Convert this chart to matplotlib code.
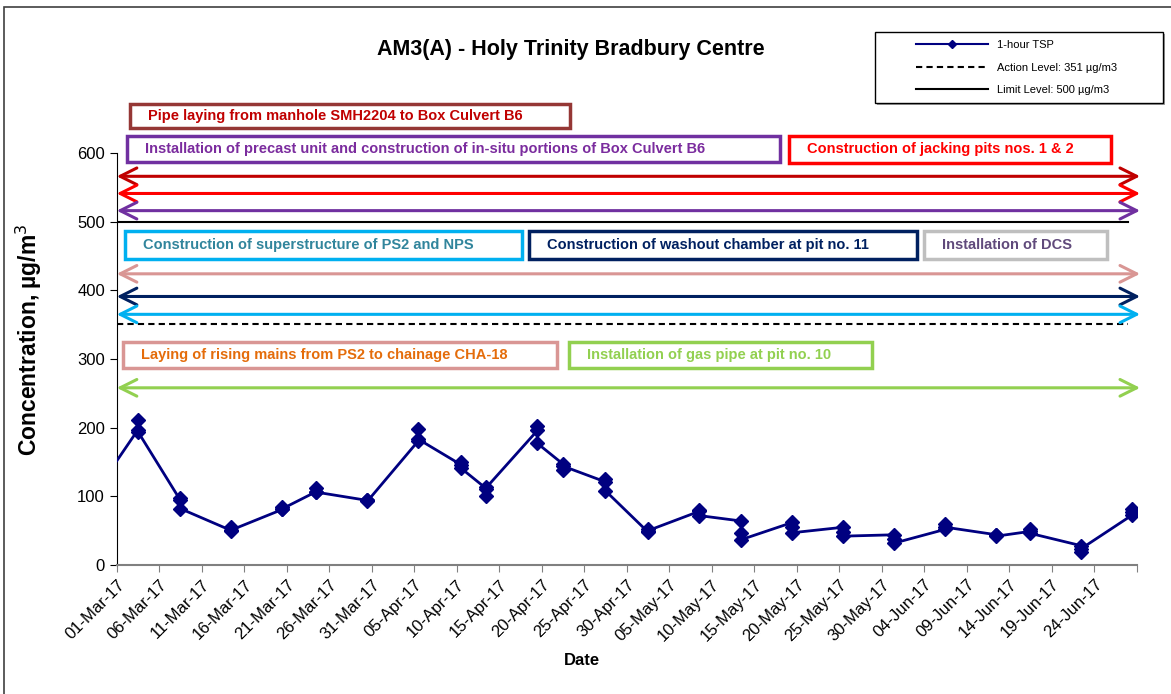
import pandas as pd
import numpy as np
import matplotlib
matplotlib.use('Agg')
import matplotlib.pyplot as plt
from matplotlib.patches import Rectangle, FancyArrowPatch
from matplotlib.lines import Line2D

plt.rcParams['font.family'] = ['Liberation Sans', 'DejaVu Sans']

# 1-hour TSP readings, three per sampling day (in sampling order)
sample_dates = ['2017-02-25', '2017-03-03', '2017-03-08', '2017-03-14', '2017-03-20',
                '2017-03-24', '2017-03-30', '2017-04-05', '2017-04-10', '2017-04-13',
                '2017-04-19', '2017-04-22', '2017-04-27', '2017-05-02', '2017-05-08',
                '2017-05-13', '2017-05-19', '2017-05-25', '2017-05-31', '2017-06-06',
                '2017-06-12', '2017-06-16', '2017-06-22', '2017-06-28']
tsp_first = [88, 197, 94, 50, 81, 107, 94, 181, 146, 111, 196, 147, 121, 48, 78, 64,
             62, 55, 44, 52, 44, 49, 28, 73]
tsp_second = [88, 211, 97, 56, 84, 112, 95, 198, 150, 100, 202, 138, 125, 52, 80, 46,
              55, 48, 38, 60, 43, 53, 19, 82]
tsp_third = [88, 194, 82, 51, 82, 106, 93, 183, 141, 113, 177, 144, 108, 50, 72, 37,
             47, 42, 32, 55, 42, 46, 24, 77]

action_level = 351
limit_level = 500

# construction activities shown as labelled boxes
activity_labels = [
    'Pipe laying from manhole SMH2204 to Box Culvert B6',
    'Installation of precast unit and construction of in-situ portions of Box Culvert B6',
    'Construction of jacking pits nos. 1 & 2',
    'Construction of superstructure of PS2 and NPS',
    'Construction of washout chamber at pit no. 11',
    'Installation of DCS',
    'Laying of rising mains from PS2 to chainage CHA-18',
    'Installation of gas pipe at pit no. 10',
]
activity_text_colors = ['#C00000', '#7B2C9E', '#FF0000', '#31859C',
                        '#002060', '#604A7B', '#E46C0A', '#92D050']
activity_edge_colors = ['#953735', '#7030A0', '#FF0000', '#00B0F0',
                        '#002060', '#BFBFBF', '#D99694', '#92D050']
# box extents: x in days from 01-Mar, y in ug/m3
activity_boxes = [(1.6, 53.3, 636, 672), (1.2, 78.0, 587, 625), (79.1, 117.0, 586, 625),
                  (1.0, 47.7, 445, 487), (48.5, 94.2, 445, 487), (95.0, 116.5, 445, 487),
                  (0.7, 51.8, 287, 325), (53.2, 88.8, 287, 325)]

# activity period arrows (all spanning the whole reporting period)
arrow_colors = ['#C00000', '#FF0000', '#7030A0', '#D99694', '#002060', '#00B0F0', '#92D050']
arrow_levels = [566, 541, 516, 424, 391, 365, 258]

start = pd.Timestamp('2017-03-01')
day_pos = np.array([(pd.Timestamp(d) - start).days + 0.5 for d in sample_dates])
x = np.repeat(day_pos, 3)
y = np.column_stack([tsp_first, tsp_second, tsp_third]).ravel()

fig = plt.figure(figsize=(11.71, 6.94), dpi=100)
ax = fig.add_axes([0.0997, 0.1859, 0.8710, 0.5937])

ax.plot(x, y, color='#000080', lw=2, marker='D', ms=7.5, zorder=5)
ax.plot([0, 119], [action_level, action_level], color='black', lw=1.5, ls=(0, (3, 2)))
ax.plot([0, 119], [limit_level, limit_level], color='black', lw=1.5)

for c, lvl in zip(arrow_colors, arrow_levels):
    arr = FancyArrowPatch((0, lvl), (120.4, lvl), arrowstyle='<->,head_length=12,head_width=6',
                          mutation_scale=1, color=c, lw=2.2, shrinkA=0, shrinkB=0,
                          clip_on=False, zorder=4)
    ax.add_patch(arr)

for lab, tc, ec, (x0, x1, y0, y1) in zip(activity_labels, activity_text_colors,
                                         activity_edge_colors, activity_boxes):
    ax.add_patch(Rectangle((x0, y0), x1 - x0, y1 - y0, facecolor='white', edgecolor=ec,
                           lw=2.5, clip_on=False, zorder=6))
    ax.text(x0 + 2.1, (y0 + y1) / 2, lab, color=tc, fontsize=10.5, fontweight='bold',
            ha='left', va='center', clip_on=False, zorder=7)

ax.set_xlim(0, 120)
ax.set_ylim(0, 600)
ticks = np.arange(0, 121, 5)
labels = [(start + pd.Timedelta(days=int(t))).strftime('%d-%b-%y') for t in ticks[:-1]] + ['']
ax.set_xticks(ticks)
ax.set_xticklabels(labels, rotation=45, ha='right', rotation_mode='anchor', fontsize=12)
ax.set_yticks(np.arange(0, 601, 100))
ax.tick_params(axis='y', labelsize=12, length=5, direction='out')
ax.tick_params(axis='x', length=5, direction='out', color='#808080')
for s in ['top', 'right']:
    ax.spines[s].set_visible(False)
ax.spines['bottom'].set_color('#808080')
ax.spines['bottom'].set_linewidth(1.5)

fig.text(0.4876, 0.928, 'AM3(A) - Holy Trinity Bradbury Centre', fontsize=15.5,
         fontweight='bold', ha='center', va='center')
fig.text(0.497, 0.0476, 'Date', fontsize=12, fontweight='bold', ha='center', va='center')
fig.text(0.025, 0.510, 'Concentration, µg/m$^3$', fontsize=16.5, fontweight='bold',
         rotation=90, ha='center', va='center')

# legend frame with a light shadow
fig.add_artist(Rectangle((0.7490, 0.8490), 0.2460, 0.1023, transform=fig.transFigure,
                         facecolor='#A0A0A0', edgecolor='none'))
fig.add_artist(Rectangle((0.7472, 0.8516), 0.2460, 0.1023, transform=fig.transFigure,
                         facecolor='white', edgecolor='black', lw=1))
handles = [Line2D([], [], color='#000080', lw=1.5, marker='D', ms=4.5),
           Line2D([], [], color='black', lw=1.5, ls=(0, (3, 2))),
           Line2D([], [], color='black', lw=1.5)]
fig.legend(handles, ['1-hour TSP', 'Action Level: 351 µg/m3', 'Limit Level: 500 µg/m3'],
           loc='center', bbox_to_anchor=(0.8680, 0.9027), frameon=False, fontsize=8,
           handlelength=6.5, labelspacing=1.1)

# outer chart border
fig.add_artist(Rectangle((0.0034, -0.1), 1.2, 1.0899, transform=fig.transFigure,
                         facecolor='none', edgecolor='#404040', lw=1.2))

fig.savefig('out.png', dpi=100)
